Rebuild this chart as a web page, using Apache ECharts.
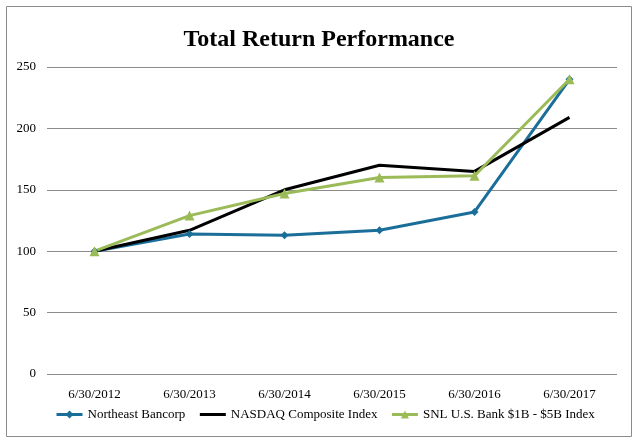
<!DOCTYPE html>
<html><head><meta charset="utf-8">
<script src="https://cdn.jsdelivr.net/npm/echarts@6/dist/echarts.min.js"></script>
<style>html,body{margin:0;padding:0;background:#fff}#c{width:638px;height:444px}</style>
</head><body><div id="c"></div>
<script>
var categories = ['6/30/2012','6/30/2013','6/30/2014','6/30/2015','6/30/2016','6/30/2017'];
var northeast = [100, 114, 113, 117, 132, 240];
var nasdaq = [100, 117, 150, 170, 165, 209];
var snl = [100, 129, 147, 160, 161.5, 240];
var yTicks = [0, 50, 100, 150, 200, 250];

var font = 'Liberation Serif';
var chart = echarts.init(document.getElementById('c'));
chart.setOption({
  animation: false,
  backgroundColor: '#fff',
  graphic: [{type:'rect', shape:{x:6.5,y:6.5,width:625,height:430}, style:{fill:'none', stroke:'#8c8c8c', lineWidth:1}}],
  title: {text:'Total Return Performance', left:'center', top:23,
    textStyle:{fontFamily:font, fontSize:24, fontWeight:'bold', color:'#000'}},
  grid: {left:47, right:21, top:67, bottom:70},
  legend: {bottom:18, left:50, itemGap:13, itemWidth:26, itemHeight:10,
    lineStyle:{width:3},
    textStyle:{fontFamily:font, fontSize:13, color:'#000'},
    data:['Northeast Bancorp',{name:'NASDAQ Composite Index', itemStyle:{opacity:0}},'SNL U.S. Bank $1B - $5B Index']},
  xAxis: {type:'category', data:categories, boundaryGap:true,
    axisLine:{show:false}, axisTick:{show:false},
    axisLabel:{fontFamily:font, fontSize:13, color:'#000', margin:14}},
  yAxis: {type:'value', min:yTicks[0], max:yTicks[yTicks.length-1], interval:50,
    axisLine:{show:false}, axisTick:{show:false},
    axisLabel:{fontFamily:font, fontSize:13, color:'#000', margin:11},
    splitLine:{lineStyle:{color:'#8c8c8c', width:1}}},
  series: [
    {name:'Northeast Bancorp', type:'line', data:northeast, symbol:'diamond', symbolSize:8,
      itemStyle:{color:'#1a6e99'}, lineStyle:{width:3, color:'#1a6e99'}},
    {name:'NASDAQ Composite Index', type:'line', data:nasdaq, symbol:'none',
      itemStyle:{color:'#000'}, lineStyle:{width:3, color:'#000'}},
    {name:'SNL U.S. Bank $1B - $5B Index', type:'line', data:snl, symbol:'triangle', symbolSize:10,
      itemStyle:{color:'#9bbb59'}, lineStyle:{width:3, color:'#9bbb59'}}
  ]
});
</script></body></html>
